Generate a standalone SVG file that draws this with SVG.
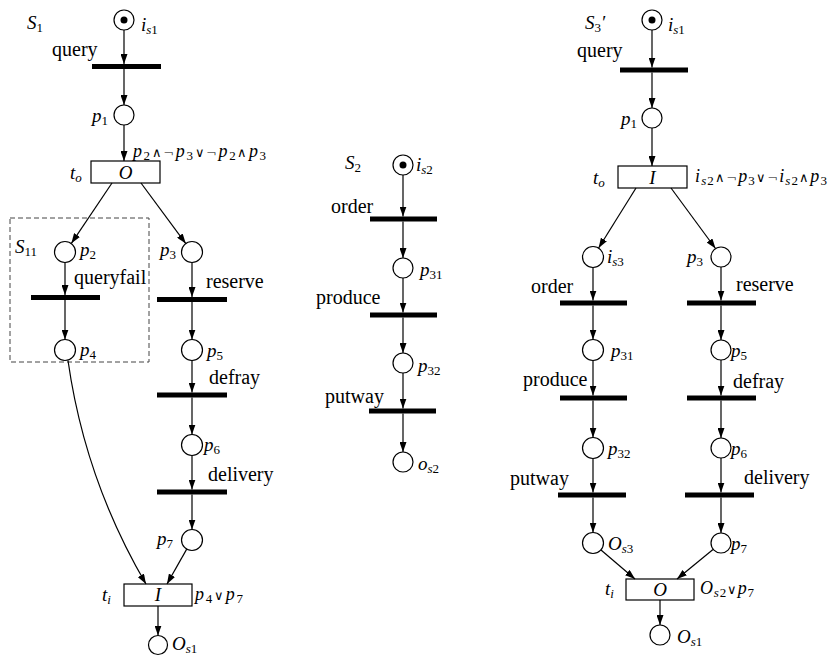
<svg xmlns="http://www.w3.org/2000/svg" width="831" height="656" viewBox="0 0 831 656">
<style>
.lbl{font-family:"Liberation Serif","Times New Roman",serif;font-size:19px;fill:#000}
.w{font-size:20px}
.it{font-style:italic}
.sub{font-size:13px}
.n{font-style:normal}
.op{font-style:normal;font-family:"DejaVu Sans",sans-serif;font-weight:200;font-size:13px}
.arc{stroke:#000;stroke-width:1.2;fill:none;marker-end:url(#ah)}
.pl{fill:#fff;stroke:#000;stroke-width:1.2}
.bar{fill:#000}
.box{fill:#fff;stroke:#000;stroke-width:1.2}
.tok{fill:#000}
.g{font-size:18px}
</style>
<defs>
<marker id="ah" markerUnits="userSpaceOnUse" markerWidth="10" markerHeight="7" refX="10" refY="3.5" orient="auto">
<path d="M0,0 L10,3.5 L0,7 z" fill="#000"/>
</marker>
</defs>
<rect width="831" height="656" fill="#fff"/>

<!-- ===== S1 ===== -->
<text class="lbl it" x="27" y="29">S<tspan class="sub n" dy="3">1</tspan></text>
<g id="S1_is1"><circle class="pl" cx="124" cy="20" r="10"/><circle class="tok" cx="124" cy="20" r="3.5"/><text class="lbl it" x="141" y="31">i<tspan class="sub" dy="3">s</tspan><tspan class="sub n">1</tspan></text></g>
<g id="S1_query"><rect class="bar" x="92" y="64" width="69" height="5"/><text class="lbl w" x="52" y="56">query</text></g>
<g id="S1_p1"><circle class="pl" cx="124" cy="115" r="10"/><text class="lbl it" x="92" y="122">p<tspan class="sub n" dy="3">1</tspan></text></g>
<g id="S1_to"><rect class="box" x="91" y="161" width="69" height="22"/><text class="lbl it" x="125.5" y="179" text-anchor="middle">O</text><text class="lbl it" x="70" y="179">t<tspan class="sub" dy="3">o</tspan></text>
<text class="lbl it g" x="133" y="157" textLength="133">p<tspan class="sub n" dy="3">2</tspan><tspan class="op" dy="-3">∧¬</tspan>p<tspan class="sub n" dy="3">3</tspan><tspan class="op" dy="-3">∨¬</tspan>p<tspan class="sub n" dy="3">2</tspan><tspan class="op" dy="-3">∧</tspan>p<tspan class="sub n" dy="3">3</tspan></text></g>
<g id="S11"><rect x="10" y="218" width="139" height="144" fill="none" stroke="#444" stroke-width="1" stroke-dasharray="5,3"/><text class="lbl it" x="15" y="253">S<tspan class="sub n" dy="3">11</tspan></text></g>
<g id="S1_p2"><circle class="pl" cx="65" cy="252" r="10.5"/><text class="lbl it" x="80" y="256">p<tspan class="sub n" dy="3">2</tspan></text></g>
<g id="S1_queryfail"><rect class="bar" x="31" y="295" width="69" height="5"/><text class="lbl w" x="74" y="284">queryfail</text></g>
<g id="S1_p4"><circle class="pl" cx="65" cy="350" r="10.5"/><text class="lbl it" x="80" y="356">p<tspan class="sub n" dy="3">4</tspan></text></g>
<g id="S1_p3"><circle class="pl" cx="192" cy="252" r="10.5"/><text class="lbl it" x="160" y="256">p<tspan class="sub n" dy="3">3</tspan></text></g>
<g id="S1_reserve"><rect class="bar" x="157" y="297" width="70" height="5"/><text class="lbl w" x="206" y="288">reserve</text></g>
<g id="S1_p5"><circle class="pl" cx="192" cy="350" r="10.5"/><text class="lbl it" x="207" y="357">p<tspan class="sub n" dy="3">5</tspan></text></g>
<g id="S1_defray"><rect class="bar" x="157" y="392.5" width="70" height="5"/><text class="lbl w" x="209" y="384">defray</text></g>
<g id="S1_p6"><circle class="pl" cx="192" cy="445" r="10.5"/><text class="lbl it" x="204" y="451">p<tspan class="sub n" dy="3">6</tspan></text></g>
<g id="S1_delivery"><rect class="bar" x="157" y="489.5" width="70" height="5"/><text class="lbl w" x="208" y="481">delivery</text></g>
<g id="S1_p7"><circle class="pl" cx="192" cy="540" r="10.5"/><text class="lbl it" x="157" y="545">p<tspan class="sub n" dy="3">7</tspan></text></g>
<g id="S1_ti"><rect class="box" x="124" y="584" width="68" height="22"/><text class="lbl it" x="158" y="601" text-anchor="middle">I</text><text class="lbl it" x="102" y="601">t<tspan class="sub" dy="3">i</tspan></text>
<text class="lbl it g" x="195" y="600" textLength="48">p<tspan class="sub n" dy="3">4</tspan><tspan class="op" dy="-3">∨</tspan>p<tspan class="sub n" dy="3">7</tspan></text></g>
<g id="S1_os1"><circle class="pl" cx="158" cy="645" r="9.5"/><text class="lbl it" x="172" y="650">O<tspan class="sub" dy="3">s</tspan><tspan class="sub n">1</tspan></text></g>

<!-- ===== S2 ===== -->
<text class="lbl it" x="345" y="169">S<tspan class="sub n" dy="3">2</tspan></text>
<g id="S2_is2"><circle class="pl" cx="403" cy="165" r="10"/><circle class="tok" cx="403" cy="165" r="3.5"/><text class="lbl it" x="416" y="171">i<tspan class="sub" dy="3">s</tspan><tspan class="sub n">2</tspan></text></g>
<g id="S2_order"><rect class="bar" x="370" y="216.5" width="67" height="5"/><text class="lbl w" x="331" y="213">order</text></g>
<g id="S2_p31"><circle class="pl" cx="403" cy="268" r="10"/><text class="lbl it" x="420" y="276">p<tspan class="sub n" dy="3">31</tspan></text></g>
<g id="S2_produce"><rect class="bar" x="370" y="312.5" width="67" height="5"/><text class="lbl w" x="316" y="304">produce</text></g>
<g id="S2_p32"><circle class="pl" cx="403" cy="363" r="10"/><text class="lbl it" x="418" y="372">p<tspan class="sub n" dy="3">32</tspan></text></g>
<g id="S2_putway"><rect class="bar" x="369" y="408.5" width="67" height="5"/><text class="lbl w" x="325" y="403">putway</text></g>
<g id="S2_os2"><circle class="pl" cx="403" cy="462" r="10"/><text class="lbl it" x="418" y="470">o<tspan class="sub" dy="3">s</tspan><tspan class="sub n">2</tspan></text></g>

<!-- ===== S3' ===== -->
<text class="lbl it" x="585" y="29">S<tspan class="sub n" dy="3">3</tspan><tspan dy="-3">′</tspan></text>
<g id="S3_is1"><circle class="pl" cx="652" cy="20" r="10"/><circle class="tok" cx="652" cy="20" r="3.5"/><text class="lbl it" x="668" y="31">i<tspan class="sub" dy="3">s</tspan><tspan class="sub n">1</tspan></text></g>
<g id="S3_query"><rect class="bar" x="620" y="67.5" width="68" height="5"/><text class="lbl w" x="577" y="57">query</text></g>
<g id="S3_p1"><circle class="pl" cx="652" cy="118" r="10"/><text class="lbl it" x="621" y="125">p<tspan class="sub n" dy="3">1</tspan></text></g>
<g id="S3_to"><rect class="box" x="618" y="166" width="69" height="22"/><text class="lbl it" x="652.5" y="184" text-anchor="middle">I</text><text class="lbl it" x="593" y="184">t<tspan class="sub" dy="3">o</tspan></text>
<text class="lbl it g" x="695" y="182" textLength="132">i<tspan class="sub" dy="3">s</tspan><tspan class="sub n">2</tspan><tspan class="op" dy="-3">∧¬</tspan>p<tspan class="sub n" dy="3">3</tspan><tspan class="op" dy="-3">∨¬</tspan>i<tspan class="sub" dy="3">s</tspan><tspan class="sub n">2</tspan><tspan class="op" dy="-3">∧</tspan>p<tspan class="sub n" dy="3">3</tspan></text></g>
<g id="S3_is3"><circle class="pl" cx="593" cy="257" r="10.5"/><text class="lbl it" x="607" y="263">i<tspan class="sub" dy="3">s</tspan><tspan class="sub n">3</tspan></text></g>
<g id="S3_order"><rect class="bar" x="560" y="300.5" width="67" height="5"/><text class="lbl w" x="531" y="293">order</text></g>
<g id="S3_p31"><circle class="pl" cx="593" cy="350" r="10.5"/><text class="lbl it" x="611" y="357">p<tspan class="sub n" dy="3">31</tspan></text></g>
<g id="S3_produce"><rect class="bar" x="560" y="395.5" width="67" height="5"/><text class="lbl w" x="523" y="386">produce</text></g>
<g id="S3_p32"><circle class="pl" cx="593" cy="448" r="10.5"/><text class="lbl it" x="608" y="455">p<tspan class="sub n" dy="3">32</tspan></text></g>
<g id="S3_putway"><rect class="bar" x="558" y="492.5" width="68" height="5"/><text class="lbl w" x="510" y="485">putway</text></g>
<g id="S3_os3"><circle class="pl" cx="593" cy="543" r="10.5"/><text class="lbl it" x="608" y="550">O<tspan class="sub" dy="3">s</tspan><tspan class="sub n">3</tspan></text></g>
<g id="S3_p3"><circle class="pl" cx="721" cy="257" r="10"/><text class="lbl it" x="687" y="263">p<tspan class="sub n" dy="3">3</tspan></text></g>
<g id="S3_reserve"><rect class="bar" x="687" y="300.5" width="69" height="5"/><text class="lbl w" x="736" y="291">reserve</text></g>
<g id="S3_p5"><circle class="pl" cx="721" cy="350" r="10"/><text class="lbl it" x="731" y="357">p<tspan class="sub n" dy="3">5</tspan></text></g>
<g id="S3_defray"><rect class="bar" x="687" y="395.5" width="69" height="5"/><text class="lbl w" x="733" y="388">defray</text></g>
<g id="S3_p6"><circle class="pl" cx="721" cy="448" r="10"/><text class="lbl it" x="731" y="455">p<tspan class="sub n" dy="3">6</tspan></text></g>
<g id="S3_delivery"><rect class="bar" x="685" y="492.5" width="69" height="5"/><text class="lbl w" x="744" y="484">delivery</text></g>
<g id="S3_p7"><circle class="pl" cx="721" cy="543" r="10"/><text class="lbl it" x="731" y="550">p<tspan class="sub n" dy="3">7</tspan></text></g>
<g id="S3_ti"><rect class="box" x="626" y="579" width="68" height="21"/><text class="lbl it" x="660" y="596" text-anchor="middle">O</text><text class="lbl it" x="605" y="595">t<tspan class="sub" dy="3">i</tspan></text>
<text class="lbl it g" x="700" y="594" textLength="54">O<tspan class="sub" dy="3">s</tspan><tspan class="sub n">2</tspan><tspan class="op" dy="-3">∨</tspan>p<tspan class="sub n" dy="3">7</tspan></text></g>
<g id="S3_os1"><circle class="pl" cx="660" cy="635" r="10"/><text class="lbl it" x="677" y="643">O<tspan class="sub" dy="3">s</tspan><tspan class="sub n">1</tspan></text></g>

<!-- ===== connectors ===== -->
<g id="connectors">
<line class="arc" x1="124" y1="30" x2="124" y2="64"/>
<line class="arc" x1="124" y1="69" x2="124" y2="105"/>
<line class="arc" x1="124" y1="125" x2="124" y2="161"/>
<line class="arc" x1="112" y1="183" x2="71.4" y2="243.3"/>
<line class="arc" x1="141" y1="183" x2="185.8" y2="243.6"/>
<line class="arc" x1="65" y1="262.5" x2="65" y2="295"/>
<line class="arc" x1="65" y1="300" x2="65" y2="339.5"/>
<line class="arc" x1="192" y1="262.5" x2="192" y2="297"/>
<line class="arc" x1="192" y1="302" x2="192" y2="339.5"/>
<line class="arc" x1="192" y1="360.5" x2="192" y2="392.5"/>
<line class="arc" x1="192" y1="397.5" x2="192" y2="434.5"/>
<line class="arc" x1="192" y1="455.5" x2="192" y2="489.5"/>
<line class="arc" x1="192" y1="494.5" x2="192" y2="529.5"/>
<line class="arc" x1="186.7" y1="549.1" x2="167" y2="584"/>
<path class="arc" d="M68,360.5 Q85,480 146,584"/>
<line class="arc" x1="158" y1="606" x2="158" y2="635.5"/>

<line class="arc" x1="403" y1="175" x2="403" y2="216.5"/>
<line class="arc" x1="403" y1="221.5" x2="403" y2="258"/>
<line class="arc" x1="403" y1="278" x2="403" y2="312.5"/>
<line class="arc" x1="403" y1="317.5" x2="403" y2="353"/>
<line class="arc" x1="403" y1="373" x2="403" y2="408.5"/>
<line class="arc" x1="403" y1="413.5" x2="403" y2="452"/>

<line class="arc" x1="652" y1="30" x2="652" y2="67.5"/>
<line class="arc" x1="652" y1="72.5" x2="652" y2="108"/>
<line class="arc" x1="652" y1="128" x2="652" y2="166"/>
<line class="arc" x1="636" y1="188" x2="598.6" y2="248"/>
<line class="arc" x1="671" y1="188" x2="715.5" y2="248.5"/>
<line class="arc" x1="593" y1="267.5" x2="593" y2="300.5"/>
<line class="arc" x1="593" y1="305.5" x2="593" y2="339.5"/>
<line class="arc" x1="593" y1="360.5" x2="593" y2="395.5"/>
<line class="arc" x1="593" y1="400.5" x2="593" y2="437.5"/>
<line class="arc" x1="593" y1="458.5" x2="593" y2="492.5"/>
<line class="arc" x1="593" y1="497.5" x2="593" y2="532.5"/>
<line class="arc" x1="721" y1="267" x2="721" y2="300.5"/>
<line class="arc" x1="721" y1="305.5" x2="721" y2="340"/>
<line class="arc" x1="721" y1="360" x2="721" y2="395.5"/>
<line class="arc" x1="721" y1="400.5" x2="721" y2="438"/>
<line class="arc" x1="721" y1="458" x2="721" y2="492.5"/>
<line class="arc" x1="721" y1="497.5" x2="721" y2="533"/>
<line class="arc" x1="601" y1="550" x2="635" y2="579"/>
<line class="arc" x1="713" y1="549.5" x2="677" y2="579"/>
<line class="arc" x1="660" y1="600" x2="660" y2="625"/>
</g>
</svg>
